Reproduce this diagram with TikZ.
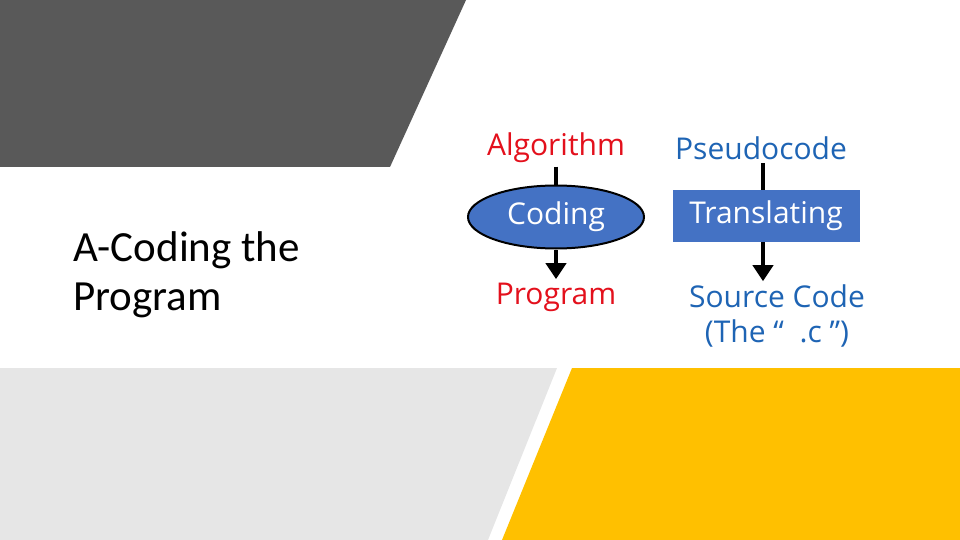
\documentclass[tikz,border=0pt]{standalone}
\usepackage{fontspec}
\setmainfont{Carlito}
\newfontfamily\diagfont{Open Sans}
\usetikzlibrary{arrows.meta,positioning,shapes.geometric}
\definecolor{slidegray}{HTML}{595959}
\definecolor{lightband}{HTML}{E6E6E6}
\definecolor{accentyellow}{HTML}{FFC000}
\definecolor{boxblue}{HTML}{4472C4}
\definecolor{algred}{HTML}{E3101C}
\definecolor{codeblue}{HTML}{1E64B4}
\tikzset{
  >=Triangle,
  every node/.append style={font=\diagfont\fontsize{30}{35}\selectfont},
}
\tikzset{
  stepoval/.style={ellipse, draw, line width=2pt, fill=boxblue, text=white, minimum width=176pt, minimum height=63pt, inner sep=0pt},
  stepbox/.style={rectangle, fill=boxblue, text=white, minimum width=187pt, minimum height=52pt, inner sep=0pt},
  arrow/.style={-{Triangle[length=16pt,width=20pt]}, line width=4.5pt},
  link/.style={line width=4.5pt},
  redlabel/.style={text=algred},
  bluelabel/.style={text=codeblue, align=center}
}

\begin{document}
\begin{tikzpicture}[x=1pt,y=-1pt]
\useasboundingbox (0,0) rectangle (960,540);
% slide bands
\fill[slidegray] (0,0) -- (466,0) -- (390,167) -- (0,167) -- cycle;
\fill[lightband] (0,368) -- (557,368) -- (488,540) -- (0,540) -- cycle;
\fill[accentyellow] (572,368) -- (960,368) -- (960,540) -- (502,540) -- cycle;
% title
\node[anchor=base west, align=left, inner sep=0pt, font=\fontsize{43}{49}\selectfont] (title) at (73,310) {A-Coding the\\Program};
% left column
\node[redlabel] (algo) at (556,148) {Algorithm};
\node[stepoval] (coding) at (556,217) {Coding};
\node[redlabel] (prog) at (556,297) {Program};
% right column
\node[bluelabel] (pseudo) at (761,148) {Pseudocode};
\node[stepbox] (transl) at (766,216) {Translating};
\node[bluelabel] (src) at (777,316) {Source Code\\(The “\ \ .c ”)};
% connectors
\draw[link] (algo) -- (coding);
\draw[arrow] (coding) -- (prog);
\draw[link] (pseudo.south -| 763,0) -- (transl.north -| 763,0);
\draw[arrow] (transl.south -| 763,0) -- (src.north -| 763,0);
\end{tikzpicture}
\end{document}
